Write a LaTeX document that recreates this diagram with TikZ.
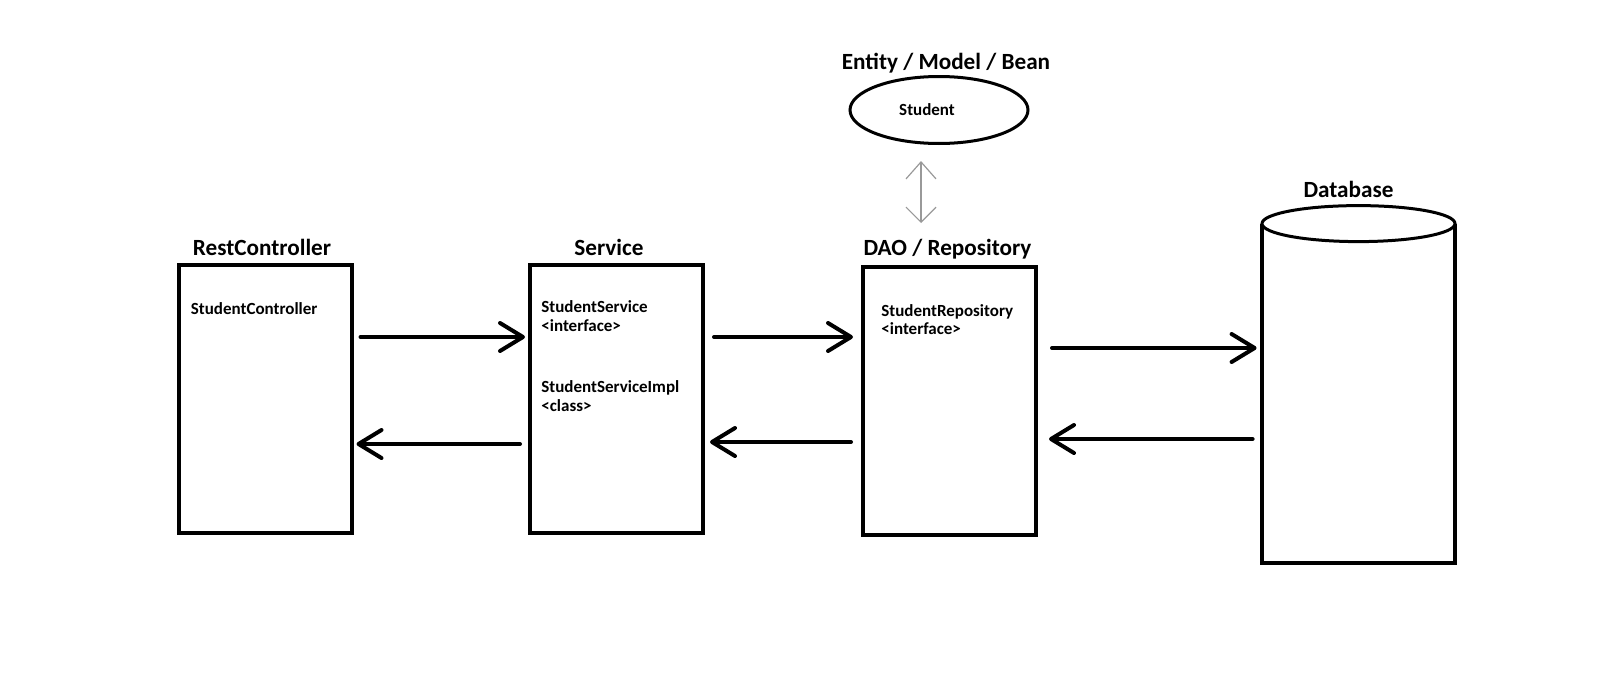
\documentclass[tikz,border=0pt]{standalone}
\usepackage{fontspec}
\setmainfont{Carlito}
\usetikzlibrary{arrows.meta,calc,shapes.geometric}
\begin{document}
\begin{tikzpicture}[x=0.5pt,y=-0.5pt,
  box/.style={draw,line width=2pt,rectangle,inner sep=0pt,minimum width=86.5pt,minimum height=134pt},
  head/.style={anchor=base,inner sep=0pt,font=\fontsize{11.6}{13}\selectfont\bfseries},
  txt/.style={anchor=base west,inner sep=0pt,font=\fontsize{8.5}{10}\selectfont\bfseries},
  conn/.style={line width=2pt,line cap=round,-{Straight Barb[length=11.5pt,width=14pt,line cap=round,line join=round]}},
  thin/.style={line width=0.6pt,draw=gray!80,{Straight Barb[length=8.5pt,width=15pt]}-{Straight Barb[length=7.5pt,width=15pt]}}]
\useasboundingbox (0,0) rectangle (1600,680);
% boxes
\node[box] (rc) at (265,399) {};
\node[box] (svc) at (616.5,398.5) {};
\node[box] (dao) at (949.5,401) {};
\node[draw,ellipse,line width=1.5pt,inner sep=0pt,minimum width=89pt,minimum height=33.5pt] (ent) at (939,110) {};
\node[rectangle,inner sep=0pt,minimum width=96.5pt,minimum height=169.5pt] (db) at (1358.5,393.5) {};
\draw[line width=2pt] (db.north west) -- (db.south west) -- (db.south east) -- (db.north east);
\node[draw,ellipse,line width=1.5pt,inner sep=0pt,minimum width=96.5pt,minimum height=18pt,fill=white] (dbtop) at (db.north) {};
% headings
\node[head] (rcl) at ($(rc.north)+(-3,-8)$) {RestController};
\node[head] (svcl) at ($(svc.north)+(-7.5,-7)$) {Service};
\node[head] (daol) at ($(dao.north)+(-2,-10)$) {DAO / Repository};
\node[head] (entl) at ($(ent.north)+(7,-6)$) {Entity / Model / Bean};
\node[head] (dbl) at ($(dbtop.north)+(-10,-7)$) {Database};
% inner texts
\node[txt] (t1) at ($(rc.north west)+(14,51)$) {StudentController};
\node[txt] (t2) at ($(svc.north west)+(13,50)$) {StudentService};
\node[txt] (t3) at ($(svc.north west)+(13,69)$) {<interface>};
\node[txt] (t4) at ($(svc.north west)+(13,130)$) {StudentServiceImpl};
\node[txt] (t5) at ($(svc.north west)+(13,149)$) {<class>};
\node[txt] (t6) at ($(dao.north west)+(20,51)$) {StudentRepository};
\node[txt] (t7) at ($(dao.north west)+(20,69)$) {<interface>};
\node[txt,anchor=base] (t8) at ($(ent.center)+(-12,5)$) {Student};
% connectors
\draw[conn] ($(rc.east)+(7,-62)$) -- ($(svc.west)+(-3,-61.5)$);
\draw[conn] ($(svc.west)+(-8,45.5)$) -- ($(rc.east)+(3,45)$);
\draw[conn] ($(svc.east)+(9,-61.5)$) -- ($(dao.west)+(-8,-64)$);
\draw[conn] ($(dao.west)+(-10,41)$) -- ($(svc.east)+(5,43.5)$);
\draw[conn] ($(dao.east)+(14,-53)$) -- ($(db.west)+(-5,-45.5)$);
\draw[conn] ($(db.west)+(-9,45.5)$) -- ($(dao.east)+(11,38)$);
\draw[thin] ($(ent.south)+(-18,16)$) -- ($(dao.north)+(-28.5,-42)$);
\end{tikzpicture}
\end{document}
